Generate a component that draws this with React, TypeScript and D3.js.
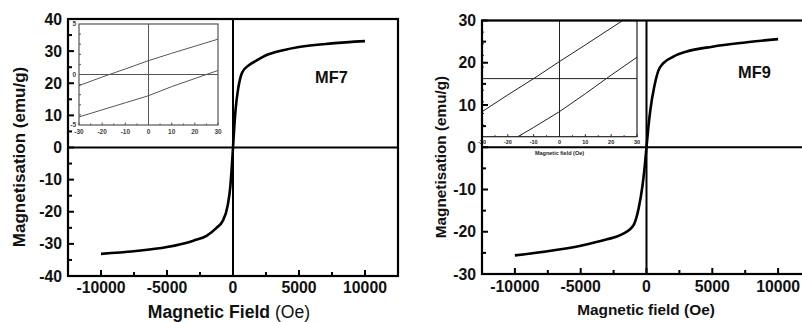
import React from 'react';
import * as d3 from 'd3';

// main loops (field in Oe, magnetisation in emu/g)
const MF7_FIELD = [-10000, -7500, -5000, -3000, -2000, -1250, -800, -400, -200, -100, 0, 100, 200, 400, 700, 1200, 1800, 2500, 3800, 5000, 7500, 10000];
const MF7_MAG = [-33.1, -32.3, -31.0, -29.0, -27.5, -25.0, -23.0, -18.0, -12.0, -6.5, 0, 6.5, 12.0, 18.5, 23.4, 25.6, 27.1, 28.7, 30.3, 31.3, 32.4, 33.1];

const MF9_FIELD = [-10000, -7500, -5000, -3000, -2000, -1000, -600, -300, -150, 0, 150, 300, 600, 1000, 2000, 3000, 5000, 7500, 10000];
const MF9_MAG = [-25.6, -24.6, -23.3, -21.8, -20.8, -18.5, -14.5, -9.0, -5.0, 0, 5.0, 9.0, 14.5, 18.8, 21.4, 22.6, 23.8, 24.8, 25.6];

// zoomed insets around H = 0
const INSET_FIELD = [-30, -20, -10, 0, 10, 20, 30];
const MF7_INSET_UPPER = [-1.1, -0.25, 0.55, 1.37, 2.1, 2.8, 3.5];
const MF7_INSET_LOWER = [-4.2, -3.5, -2.8, -2.1, -1.2, -0.4, 0.4];
const MF9_INSET_UPPER = [-2.85, -1.4, 0, 1.47, 2.9, 4.35, 5.8];
const MF9_INSET_LOWER = [-6.8, -5.5, -4.2, -2.84, -1.3, 0.3, 1.84];

// ticks
const FIELD_TICKS = [-10000, -5000, 0, 5000, 10000];
const FIELD_MINOR = [-7500, -2500, 2500, 7500];
const MF7_MAG_TICKS = [-40, -30, -20, -10, 0, 10, 20, 30, 40];
const MF9_MAG_TICKS = [-30, -20, -10, 0, 10, 20, 30];
const INSET_X_TICKS = [-30, -20, -10, 0, 10, 20, 30];
const INSET_X_MINOR = [-25, -15, -5, 5, 15, 25];
const MF7_INSET_Y_TICKS = [-5, 0, 5];
const INSET_Y_MINOR = [-4, -3, -2, -1, 1, 2, 3, 4];

const FONT = '"Liberation Sans", Arial, sans-serif';

type Pt = [number, number];
const zip = (xs: number[], ys: number[]): Pt[] => xs.map((x, i) => [x, ys[i]]);

const Inset = ({ x0, x1, y0, y1, upper, lower, variant, clipId }: any) => {
  const xs = d3.scaleLinear().domain([-30, 30]).range([x0, x1]);
  const ys = d3.scaleLinear().domain([-5, 5]).range([y1, y0]);
  const line = d3.line<Pt>().x(d => xs(d[0])).y(d => ys(d[1]));
  const col = variant === 'mf7' ? '#555' : '#222';
  const labCol = variant === 'mf7' ? '#444' : '#222';
  return (
    <g>
      <defs>
        <clipPath id={clipId}>
          <rect x={x0} y={y0} width={x1 - x0} height={y1 - y0} />
        </clipPath>
      </defs>
      <rect x={x0} y={y0} width={x1 - x0} height={y1 - y0} fill="#fff" />
      <g clipPath={`url(#${clipId})`} stroke={col} strokeWidth={1} fill="none">
        <line x1={x0} x2={x1} y1={ys(0)} y2={ys(0)} />
        <line x1={xs(0)} x2={xs(0)} y1={y0} y2={y1} />
        <path d={line(zip(INSET_FIELD, upper)) || ''} />
        <path d={line(zip(INSET_FIELD, lower)) || ''} />
      </g>
      <rect x={x0} y={y0} width={x1 - x0} height={y1 - y0} fill="none" stroke={col} strokeWidth={1.2} />
      {INSET_X_TICKS.map(t => (
        <line key={'ix' + t} x1={xs(t)} x2={xs(t)} y1={y1} y2={y1 - 2.5} stroke={col} />
      ))}
      {INSET_X_MINOR.map(t => (
        <line key={'ixm' + t} x1={xs(t)} x2={xs(t)} y1={y1} y2={y1 - 1.5} stroke={col} />
      ))}
      {INSET_Y_MINOR.map(t => (
        <line key={'iym' + t} x1={x0} x2={x0 + 2} y1={ys(t)} y2={ys(t)} stroke={col} />
      ))}
      {INSET_X_TICKS.map(t => (
        <text key={'ixl' + t} x={xs(t)} y={y1 + (variant === 'mf7' ? 9 : 7)} textAnchor="middle"
          fontFamily={FONT} fontWeight="bold" fontSize={variant === 'mf7' ? 6.5 : 5.5} fill={labCol}>
          {t}
        </text>
      ))}
      {variant === 'mf7' && MF7_INSET_Y_TICKS.map(t => (
        <text key={'iyl' + t} x={x0 - 3} y={ys(t) + 2.2} textAnchor="end"
          fontFamily={FONT} fontWeight="bold" fontSize={6.5} fill={labCol}>
          {t}
        </text>
      ))}
      {variant === 'mf9' && (
        <text x={xs(0)} y={y1 + 18} textAnchor="middle" fontFamily={FONT} fontWeight="bold" fontSize={5.5} fill={labCol}>
          Magnetic field (Oe)
        </text>
      )}
    </g>
  );
};

const Panel = ({ cfg }: any) => {
  const x = d3.scaleLinear().domain([-12500, 12500]).range([cfg.left, cfg.right]);
  const y = d3.scaleLinear().domain(cfg.yDomain).range([cfg.bottom, cfg.top]);
  const line = d3.line<Pt>().x(d => x(d[0])).y(d => y(d[1])).curve(d3.curveMonotoneX);
  const yMinor: number[] = cfg.yTicks.slice(0, -1).map((t: number) => t + 5);
  return (
    <g>
      <path d={line(zip(cfg.field, cfg.mag)) || ''} fill="none" stroke="#000" strokeWidth={2.6} strokeLinejoin="round" />
      <line x1={cfg.left} x2={cfg.right} y1={y(0)} y2={y(0)} stroke="#000" strokeWidth={2} />
      <line x1={x(0)} x2={x(0)} y1={cfg.top} y2={cfg.bottom} stroke="#000" strokeWidth={2} />
      <Inset {...cfg.inset} />
      <rect x={cfg.left} y={cfg.top} width={cfg.right - cfg.left} height={cfg.bottom - cfg.top}
        fill="none" stroke="#000" strokeWidth={2.2} />
      {FIELD_TICKS.map(t => (
        <line key={'xt' + t} x1={x(t)} x2={x(t)} y1={cfg.bottom} y2={cfg.bottom - 6} stroke="#000" strokeWidth={2} />
      ))}
      {FIELD_MINOR.map(t => (
        <line key={'xm' + t} x1={x(t)} x2={x(t)} y1={cfg.bottom} y2={cfg.bottom - 4} stroke="#000" strokeWidth={2} />
      ))}
      {cfg.yTicks.map((t: number) => (
        <line key={'yt' + t} x1={cfg.left} x2={cfg.left + 6} y1={y(t)} y2={y(t)} stroke="#000" strokeWidth={2} />
      ))}
      {yMinor.map((t: number) => (
        <line key={'ym' + t} x1={cfg.left} x2={cfg.left + 4} y1={y(t)} y2={y(t)} stroke="#000" strokeWidth={2} />
      ))}
      <g fontFamily={FONT} fontWeight="bold" fontSize={15.8} fill="#111">
        {FIELD_TICKS.map(t => (
          <text key={'xl' + t} x={x(t)} y={cfg.xLabelY} textAnchor="middle">{t}</text>
        ))}
        {cfg.yTicks.map((t: number) => (
          <text key={'yl' + t} x={cfg.left - 6} y={y(t) + 5.6} textAnchor="end">{t}</text>
        ))}
      </g>
      <text x={cfg.xTitleX} y={cfg.xTitleY} textAnchor="middle" fontFamily={FONT} fontSize={cfg.titleSize} fill="#111">
        <tspan fontWeight="bold">{cfg.xTitleBold}</tspan>
        <tspan fontWeight={cfg.xTitleRestBold ? 'bold' : 'normal'}>{cfg.xTitleRest}</tspan>
      </text>
      <text transform={`translate(${cfg.yTitleX},157) rotate(-90)`} textAnchor="middle"
        fontFamily={FONT} fontWeight="bold" fontSize={cfg.yTitleSize} fill="#111">
        Magnetisation (emu/g)
      </text>
      <text x={cfg.tag.x} y={cfg.tag.y} fontFamily={FONT} fontWeight="bold" fontSize={16.4} fill="#111">
        {cfg.tag.text}
      </text>
    </g>
  );
};

const PANELS = [
  {
    left: 68, right: 398, top: 19, bottom: 276, yDomain: [-40, 40], yTicks: MF7_MAG_TICKS,
    field: MF7_FIELD, mag: MF7_MAG, xLabelY: 293,
    xTitleX: 229, xTitleY: 318, titleSize: 17.6, xTitleBold: 'Magnetic Field ', xTitleRest: '(Oe)', xTitleRestBold: false,
    yTitleX: 25, yTitleSize: 17,
    tag: { text: 'MF7', x: 315, y: 83 },
    inset: { x0: 79, x1: 218, y0: 24, y1: 125, upper: MF7_INSET_UPPER, lower: MF7_INSET_LOWER, variant: 'mf7', clipId: 'c7' },
  },
  {
    left: 482, right: 811, top: 20.5, bottom: 274, yDomain: [-30, 30], yTicks: MF9_MAG_TICKS,
    field: MF9_FIELD, mag: MF9_MAG, xLabelY: 292,
    xTitleX: 646, xTitleY: 315, titleSize: 15.4, xTitleBold: 'Magnetic field ', xTitleRest: '(Oe)', xTitleRestBold: true,
    yTitleX: 446, yTitleSize: 15.3,
    tag: { text: 'MF9', x: 738, y: 78 },
    inset: { x0: 482, x1: 637, y0: 20.5, y1: 136.7, upper: MF9_INSET_UPPER, lower: MF9_INSET_LOWER, variant: 'mf9', clipId: 'c9' },
  },
];

export default function App() {
  return (
    <div style={{ position: 'absolute', left: 0, top: 0 }}>
      <svg width={802} height={322} style={{ display: 'block', background: '#fff' }}>
        <rect width={802} height={322} fill="#fff" />
        {PANELS.map((p, i) => <Panel key={i} cfg={p} />)}
      </svg>
    </div>
  );
}
